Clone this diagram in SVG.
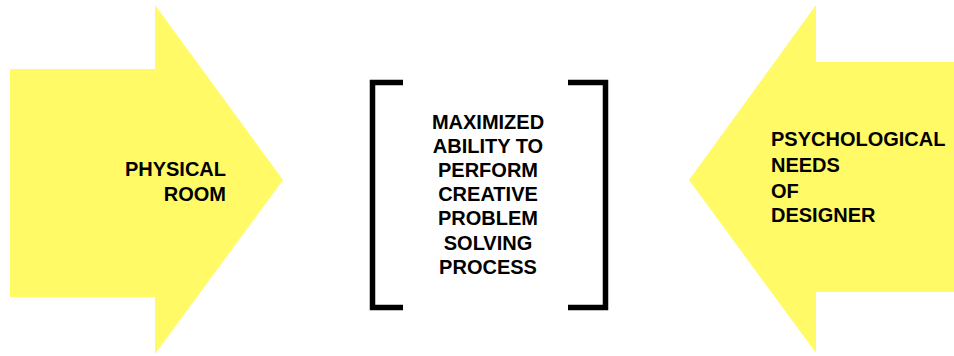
<svg xmlns="http://www.w3.org/2000/svg" width="954" height="356" viewBox="0 0 954 356">
<style>
.arrow{fill:#FFFA66;stroke:none}
.t{font-family:"Liberation Sans",Arial,sans-serif;font-weight:bold;font-size:20px;fill:#000}
.br{fill:none;stroke:#000;stroke-width:5.5;stroke-linecap:butt}
</style>
<rect width="954" height="356" fill="#fff"/>
<g id="physical-room">
<polygon class="arrow" points="10,69 155,69 155,5 283,180 155,354 155,297 10,297"/>
<text class="t" text-anchor="end"><tspan x="226" y="176">PHYSICAL</tspan><tspan x="226" y="201">ROOM</tspan></text>
</g>
<g id="psychological-needs">
<polygon class="arrow" points="954,62 816,62 816,5 689,180 816,353 816,292 954,292"/>
<text class="t"><tspan x="771" y="146">PSYCHOLOGICAL</tspan><tspan x="771" y="172">NEEDS</tspan><tspan x="771" y="198">OF</tspan><tspan x="771" y="222">DESIGNER</tspan></text>
</g>
<g id="creative-process">
<path class="br" d="M403,82.5 H372.5 V307.5 H403"/>
<path class="br" d="M568,82.5 H605.5 V307.5 H568"/>
<text class="t" text-anchor="middle"><tspan x="488" y="129">MAXIMIZED</tspan><tspan x="488" y="153">ABILITY TO</tspan><tspan x="488" y="177">PERFORM</tspan><tspan x="488" y="201">CREATIVE</tspan><tspan x="488" y="225">PROBLEM</tspan><tspan x="488" y="250">SOLVING</tspan><tspan x="488" y="274">PROCESS</tspan></text>
</g>
<g id="connectors"></g>
</svg>
